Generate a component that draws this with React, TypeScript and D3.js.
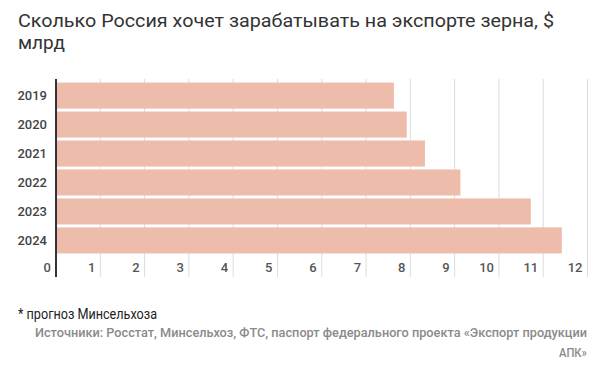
import * as d3 from "d3";

const years = ["2019", "2020", "2021", "2022", "2023", "2024"];
const values = [7.63, 7.92, 8.33, 9.13, 10.72, 11.42];
const ticks = [0, 1, 2, 3, 4, 5, 6, 7, 8, 9, 10, 11, 12];

const titleLines = ["Сколько Россия хочет зарабатывать на экспорте зерна, $", "млрд"];
const note = "* прогноз Минсельхоза";
const sourceLines = [
  "Источники: Росстат, Минсельхоз, ФТС, паспорт федерального проекта «Экспорт продукции",
  "АПК»",
];

const W = 600;
const H = 370;
const font = "Roboto, 'Noto Sans', sans-serif";

export default function App() {
  const x = d3.scaleLinear().domain([0, 12]).range([56, 587.5]);
  const y = d3
    .scaleBand<string>()
    .domain(years)
    .range([82, 254])
    .paddingInner(0.1)
    .paddingOuter(0.02);

  return (
    <svg
      width={W}
      height={H}
      style={{ position: "absolute", left: 0, top: 0, background: "#fff" }}
      fontFamily={font}
    >
      {/* title (source font is slightly wider than Roboto, so fit the width) */}
      <text x={18} y={27} fontSize={19} fill="#333" textLength={536} lengthAdjust="spacingAndGlyphs">
        {titleLines[0]}
      </text>
      <text x={18} y={48.5} fontSize={19} fill="#333">
        {titleLines[1]}
      </text>

      {/* grid */}
      {ticks.slice(1).map((t) => (
        <line key={t} x1={x(t)} x2={x(t)} y1={79} y2={277} stroke="#dcdcdc" strokeWidth={1} />
      ))}

      {/* bars */}
      {years.map((yr, i) => (
        <rect
          key={yr}
          x={x(0)}
          y={y(yr)}
          width={x(values[i]) - x(0)}
          height={y.bandwidth()}
          fill="#eebcaa"
        />
      ))}

      {/* axis line */}
      <line x1={x(0)} x2={x(0)} y1={79} y2={277} stroke="#333" strokeWidth={2} />

      {/* year labels */}
      {years.map((yr) => (
        <text
          key={yr}
          x={47}
          y={(y(yr) || 0) + y.bandwidth() / 2}
          dy="0.35em"
          textAnchor="end"
          fontSize={13}
          fontWeight={500}
          fill="#444"
        >
          {yr}
        </text>
      ))}

      {/* tick labels */}
      {ticks.map((t) => (
        <text
          key={t}
          x={x(t) - 5}
          y={272}
          textAnchor="end"
          fontSize={13}
          fontWeight={500}
          fill="#555"
        >
          {t}
        </text>
      ))}

      {/* footnote and sources, condensed in the original */}
      <text x={18} y={319} fontSize={14} fill="#222" textLength={139} lengthAdjust="spacingAndGlyphs">
        {note}
      </text>
      <text
        x={35}
        y={337}
        fontSize={12.5}
        fontWeight={500}
        fill="#8a8a8a"
        textLength={552}
        lengthAdjust="spacingAndGlyphs"
      >
        {sourceLines[0]}
      </text>
      <text
        x={559}
        y={357}
        fontSize={12.5}
        fontWeight={500}
        fill="#8a8a8a"
        textLength={28}
        lengthAdjust="spacingAndGlyphs"
      >
        {sourceLines[1]}
      </text>
    </svg>
  );
}
